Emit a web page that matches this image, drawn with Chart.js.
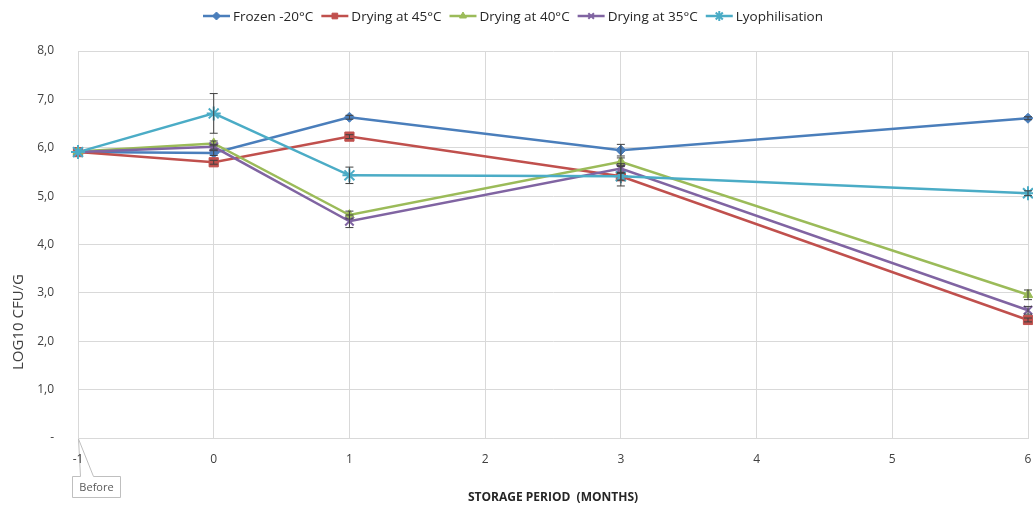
<!DOCTYPE html>
<html>
<head>
<meta charset="utf-8">
<script src="https://cdn.jsdelivr.net/npm/chart.js@4.4.0/dist/chart.umd.min.js"></script>
<style>
  html, body { margin: 0; padding: 0; background: #fff; }
  #wrap { width: 1033px; height: 509px; position: relative; }
</style>
</head>
<body>
<div id="wrap"><canvas id="chart" width="1033" height="509"></canvas></div>
<script>
// storage period (months), -1 = before storage
const months = [-1, 0, 1, 3, 6];
const frozen = [5.91, 5.89, 6.63, 5.95, 6.61];
const drying45 = [5.91, 5.70, 6.23, 5.41, 2.44];
const drying40 = [5.92, 6.09, 4.61, 5.71, 2.96];
const drying35 = [5.91, 6.02, 4.48, 5.57, 2.64];
const lyophilisation = [5.91, 6.71, 5.43, 5.41, 5.06];

// standard deviation (error bars)
const frozenErr = [0, 0.05, 0.04, 0.12, 0.03];
const drying45Err = [0, 0.04, 0.04, 0.08, 0.04];
const drying40Err = [0, 0.05, 0.08, 0.08, 0.1];
const drying35Err = [0, 0.05, 0.13, 0.1, 0.08];
const lyophilisationErr = [0, 0.41, 0.17, 0.2, 0.05];

const seriesNames = ["Frozen -20°C", "Drying at 45°C", "Drying at 40°C", "Drying at 35°C", "Lyophilisation"];
const yTicks = [0, 1, 2, 3, 4, 5, 6, 7, 8];
const xTicks = [-1, 0, 1, 2, 3, 4, 5, 6];

const FONT = "'Open Sans', 'Noto Sans', sans-serif";

function makeSeries(name, values, errs, color, style, radius, order) {
  return {
    label: name,
    data: months.map((m, i) => ({ x: m, y: values[i] })),
    errors: errs,
    borderColor: color,
    backgroundColor: color,
    borderWidth: 2.5,
    pointStyle: style,
    pointRadius: radius,
    pointBorderWidth: style === "crossRot" || style === "star" ? 2 : 1,
    pointHoverRadius: radius,
    tension: 0,
    clip: false,
    order: order,
  };
}

const datasets = [
  makeSeries(seriesNames[0], frozen, frozenErr, "#4a7ebb", "rectRot", 5, 5),
  makeSeries(seriesNames[1], drying45, drying45Err, "#c0504d", "rect", 6.5, 4),
  makeSeries(seriesNames[2], drying40, drying40Err, "#9bbb59", "triangle", 5.5, 3),
  makeSeries(seriesNames[3], drying35, drying35Err, "#8064a2", "crossRot", 6, 2),
  makeSeries(seriesNames[4], lyophilisation, lyophilisationErr, "#4bacc6", "star", 7, 1),
];

// error bars drawn on top of the lines
const errorBars = {
  id: "errorBars",
  afterDatasetsDraw(chart) {
    const ctx = chart.ctx;
    const y = chart.scales.y;
    ctx.save();
    ctx.strokeStyle = "#404040";
    ctx.lineWidth = 1;
    chart.data.datasets.forEach((ds, di) => {
      const meta = chart.getDatasetMeta(di);
      meta.data.forEach((pt, i) => {
        const e = ds.errors[i];
        if (!e) return;
        const v = ds.data[i].y;
        const top = y.getPixelForValue(v + e);
        const bot = y.getPixelForValue(v - e);
        ctx.beginPath();
        ctx.moveTo(pt.x, top); ctx.lineTo(pt.x, bot);
        ctx.moveTo(pt.x - 4, top); ctx.lineTo(pt.x + 4, top);
        ctx.moveTo(pt.x - 4, bot); ctx.lineTo(pt.x + 4, bot);
        ctx.stroke();
      });
    });
    ctx.restore();
  },
};

// "Before" callout pointing at x = -1, drawn under the axis labels
const callout = {
  id: "callout",
  beforeDraw(chart) {
    const ctx = chart.ctx;
    const px = chart.scales.x.getPixelForValue(-1);
    const py = chart.scales.y.getPixelForValue(0);
    ctx.save();
    ctx.strokeStyle = "#bfbfbf";
    ctx.fillStyle = "#fff";
    ctx.lineWidth = 1;
    ctx.beginPath();
    ctx.moveTo(px - 5.5, 476.5);
    ctx.lineTo(px + 2.5, 476.5);
    ctx.lineTo(px + 0.5, py + 1);
    ctx.lineTo(px + 15.5, 476.5);
    ctx.lineTo(px + 42.5, 476.5);
    ctx.lineTo(px + 42.5, 497.5);
    ctx.lineTo(px - 5.5, 497.5);
    ctx.closePath();
    ctx.fill();
    ctx.stroke();
    ctx.font = "11px " + FONT;
    ctx.fillStyle = "#595959";
    ctx.textAlign = "center";
    ctx.textBaseline = "middle";
    ctx.fillText("Before", px + 18.5, 488);
    ctx.restore();
  },
};

// excel-like legend (line + marker) and the y title
const extras = {
  id: "extras",
  afterDraw(chart) {
    const ctx = chart.ctx;
    ctx.save();

    ctx.font = "13.5px " + FONT;
    ctx.textBaseline = "middle";
    const lineW = 27, gapText = 3, gapItem = 8;
    const widths = seriesNames.map((n) => lineW + gapText + ctx.measureText(n).width);
    const total = widths.reduce((a, b) => a + b, 0) + gapItem * (widths.length - 1);
    let lx = 513 - total / 2;
    const ly = 16;
    chart.data.datasets.forEach((ds, i) => {
      ctx.strokeStyle = ds.borderColor;
      ctx.fillStyle = ds.borderColor;
      ctx.lineWidth = 2.5;
      ctx.beginPath();
      ctx.moveTo(lx, ly); ctx.lineTo(lx + lineW, ly);
      ctx.stroke();
      ctx.lineWidth = ds.pointBorderWidth;
      Chart.helpers.drawPoint(ctx, {
        pointStyle: ds.pointStyle,
        radius: ds.pointStyle === "star" ? 5 : 4,
        borderWidth: ds.pointBorderWidth,
        rotation: 0,
      }, lx + lineW / 2, ly);
      ctx.fillStyle = "#262626";
      ctx.textAlign = "left";
      ctx.fillText(seriesNames[i], lx + lineW + gapText, ly + 1);
      lx += widths[i] + gapItem;
    });

    ctx.translate(19, 322);
    ctx.rotate(-Math.PI / 2);
    ctx.font = "15px " + FONT;
    ctx.fillStyle = "#404040";
    ctx.textAlign = "center";
    ctx.fillText("LOG10 CFU/G", 0, 0);

    ctx.restore();
  },
};

new Chart(document.getElementById("chart"), {
  type: "line",
  data: { datasets: datasets },
  plugins: [callout, errorBars, extras],
  options: {
    responsive: false,
    animation: false,
    layout: { autoPadding: false, padding: { top: 51, right: 5, left: 0, bottom: 0 } },
    plugins: {
      legend: { display: false },
      tooltip: { enabled: false },
    },
    scales: {
      x: {
        type: "linear",
        min: -1,
        max: 6,
        afterBuildTicks: (scale) => {
          scale.ticks = xTicks.map((v) => ({ value: v }));
        },
        afterFit: (scale) => {
          scale.height = 71;
          scale.paddingLeft = 0;
          scale.paddingRight = 0;
        },
        grid: { color: "#d9d9d9", drawTicks: false },
        border: { color: "#d9d9d9" },
        ticks: {
          padding: 14,
          color: "#404040",
          font: { family: FONT, size: 12 },
          maxRotation: 0,
        },
        title: {
          display: true,
          text: "STORAGE PERIOD  (MONTHS)",
          color: "#262626",
          font: { family: FONT, size: 12, weight: "bold" },
          padding: { top: 14, bottom: 4 },
        },
      },
      y: {
        min: 0,
        max: 8,
        afterBuildTicks: (scale) => {
          scale.ticks = yTicks.map((v) => ({ value: v }));
        },
        afterFit: (scale) => {
          scale.width = 78;
          scale.paddingTop = 0;
          scale.paddingBottom = 0;
        },
        grid: { color: "#d9d9d9", drawTicks: false },
        border: { color: "#d9d9d9" },
        ticks: {
          padding: 24,
          color: "#404040",
          font: { family: FONT, size: 12 },
          callback: (v) => (v === 0 ? "-" : v.toFixed(1).replace(".", ",")),
        },
      },
    },
  },
});
</script>
</body>
</html>
